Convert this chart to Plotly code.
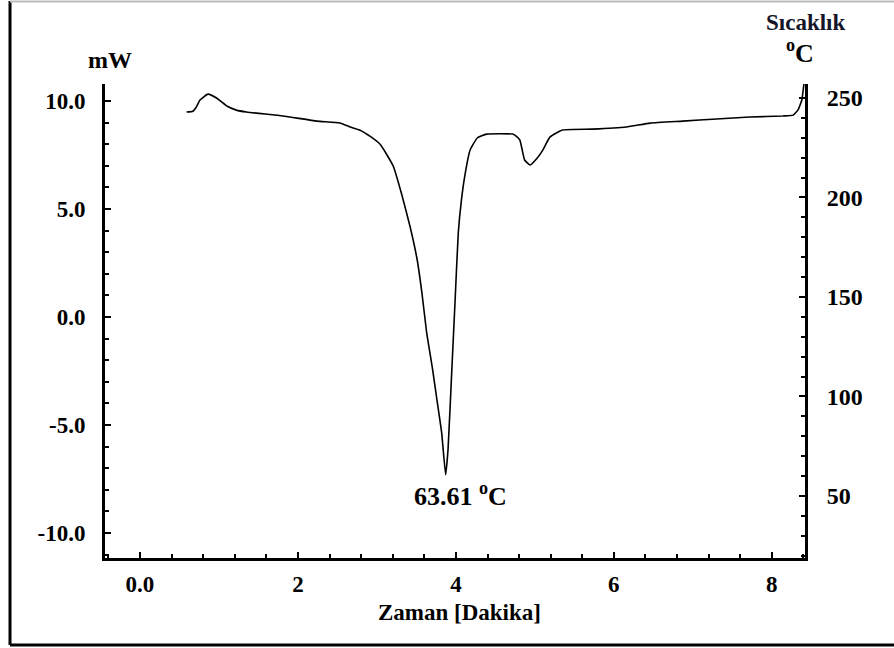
import plotly.graph_objects as go

# Time [min]
zaman = [0.59, 0.67, 0.71, 0.76, 0.86, 0.97, 1.10, 1.22, 1.35, 1.81, 2.24, 2.53,
         2.66, 2.78, 2.92, 3.04, 3.12, 3.21, 3.31, 3.42, 3.51, 3.57, 3.63, 3.70,
         3.76, 3.82, 3.87, 3.90, 3.95, 3.99, 4.03, 4.07, 4.11, 4.18, 4.27, 4.39,
         4.72, 4.77, 4.81, 4.84, 4.87, 4.94, 5.03, 5.10, 5.19, 5.35, 5.73, 6.16,
         6.46, 6.87, 7.30, 7.72, 8.14, 8.27, 8.33, 8.38, 8.40, 8.41]
# Heat flow [mW]
isi_akisi = [9.49, 9.53, 9.70, 10.05, 10.32, 10.14, 9.77, 9.58, 9.49, 9.31, 9.07, 8.98,
             8.80, 8.66, 8.35, 8.00, 7.55, 6.96, 5.73, 4.18, 2.64, 1.11, -0.74, -2.31,
             -3.84, -5.37, -7.31, -6.16, -2.31, 0.79, 3.89, 5.42, 6.48, 7.73, 8.29, 8.47,
             8.47, 8.35, 8.19, 7.73, 7.27, 7.04, 7.36, 7.73, 8.33, 8.66, 8.70, 8.80,
             8.98, 9.07, 9.17, 9.26, 9.31, 9.35, 9.58, 10.05, 10.60, 10.90]

x_tick_vals = [0, 2, 4, 6, 8]
x_tick_text = ["0.0", "2", "4", "6", "8"]
y_tick_vals = [-10, -5, 0, 5, 10]
y_tick_text = ["-10.0", "-5.0", "0.0", "5.0", "10.0"]
y2_tick_vals = [50, 100, 150, 200, 250]

peak_label = "63.61 <sup>o</sup>C"
peak_pos = (4.06, -8.2)

FONT = "Liberation Serif"

fig = go.Figure()
fig.add_trace(go.Scatter(x=zaman, y=isi_akisi, mode="lines",
                         line=dict(color="black", width=1.6, shape="spline", smoothing=0.4),
                         showlegend=False, hoverinfo="skip"))
fig.add_trace(go.Scatter(x=[None], y=[None], yaxis="y2", mode="lines",
                         showlegend=False, hoverinfo="skip"))

tickfont = dict(family=FONT, size=23, color="black", weight="bold")

fig.update_layout(
    width=894, height=648,
    margin=dict(l=105, r=89, t=84, b=90),
    paper_bgcolor="white", plot_bgcolor="white",
    xaxis=dict(range=[-0.443, 8.42], tickvals=x_tick_vals, ticktext=x_tick_text,
               ticks="inside", ticklen=6, tickwidth=2, tickcolor="black",
               showline=True, linecolor="black", linewidth=3, mirror=False,
               showgrid=False, zeroline=False, tickfont=tickfont,
               ticklabelstandoff=3,
               minor=dict(dtick=0.4, tick0=0, ticks="inside", ticklen=4,
                          tickwidth=1.5, tickcolor="black", showgrid=False)),
    yaxis=dict(range=[-11.16, 10.79], tickvals=y_tick_vals, ticktext=y_tick_text,
               ticks="inside", ticklen=6, tickwidth=2, tickcolor="black",
               showline=True, linecolor="black", linewidth=3,
               showgrid=False, zeroline=False, tickfont=tickfont,
               ticklabelstandoff=12,
               minor=dict(dtick=1, tick0=0, ticks="inside", ticklen=4,
                          tickwidth=1.5, tickcolor="black", showgrid=False)),
    yaxis2=dict(range=[18.8, 257], overlaying="y", side="right",
                tickvals=y2_tick_vals, ticks="inside", ticklen=6, tickwidth=2,
                tickcolor="black", showline=True, linecolor="black", linewidth=3,
                showgrid=False, zeroline=False,
                tickfont=dict(family=FONT, size=24, color="black", weight="bold"),
                ticklabelstandoff=14,
                minor=dict(dtick=10, tick0=0, ticks="inside", ticklen=4,
                           tickwidth=1.5, tickcolor="black", showgrid=False)),
)

ann_font = dict(family=FONT, color="black", weight="bold")
common = dict(showarrow=False, xanchor="center", yanchor="middle")
fig.add_annotation(text="mW", x=0.007, y=1.051, xref="paper", yref="paper",
                   font=dict(size=24, **ann_font), **common)
fig.add_annotation(text="Sıcaklık", x=1.0, y=1.129, xref="paper", yref="paper",
                   font=dict(size=23, family=FONT, color="#15152a", weight="bold"), **common)
fig.add_annotation(text="<sup>o</sup>C", x=0.993, y=1.068, xref="paper", yref="paper",
                   font=dict(size=26, **ann_font), **common)
fig.add_annotation(text="Zaman [Dakika]", x=0.506, y=-0.116, xref="paper", yref="paper",
                   font=dict(size=23, **ann_font), **common)
fig.add_annotation(text=peak_label, x=peak_pos[0], y=peak_pos[1], xref="x", yref="y",
                   font=dict(size=26, **ann_font), **common)

# outer frame
fig.add_shape(type="line", xref="paper", yref="paper", x0=-0.1357, x1=-0.1357,
              y0=-0.1835, y1=1.175, line=dict(color="black", width=3))
fig.add_shape(type="line", xref="paper", yref="paper", x0=-0.1357, x1=1.13,
              y0=-0.1835, y1=-0.1835, line=dict(color="black", width=3))
fig.add_shape(type="line", xref="paper", yref="paper", x0=-0.1357, x1=1.13,
              y0=1.174, y1=1.174, line=dict(color="#bbbbbb", width=2))

fig.write_html("out.html")
